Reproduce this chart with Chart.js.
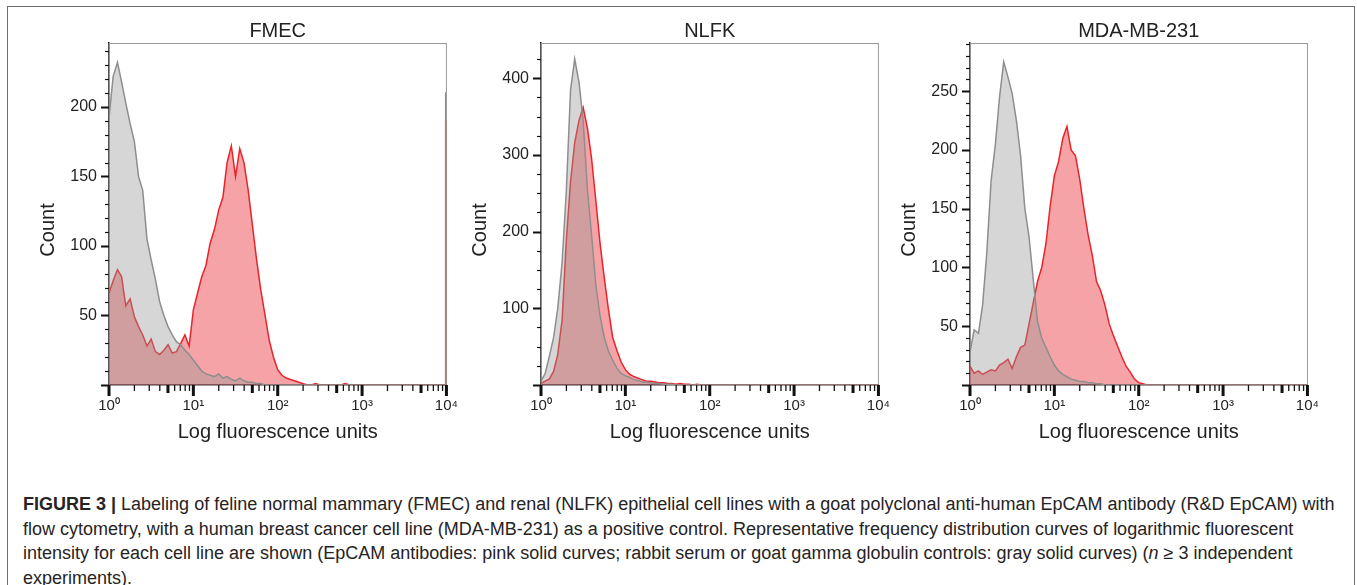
<!DOCTYPE html>
<html>
<head>
<meta charset="utf-8">
<script src="https://cdn.jsdelivr.net/npm/chart.js@4.4.1/dist/chart.umd.min.js"></script>
<style>
  html, body { margin: 0; padding: 0; background: #fff; overflow: hidden; }
  body { width: 1357px; height: 585px; position: relative; font-family: "Liberation Sans", Arial, sans-serif; }
  #frame { position: absolute; left: 7px; top: 6px; width: 1348px; height: 600px; border: 1.5px solid #6e6e6e; border-bottom: none; box-sizing: border-box; }
  canvas { position: absolute; top: 0; }
  #caption { position: absolute; left: 23px; top: 492px; font-size: 18px; line-height: 24.7px; color: #262324; white-space: nowrap; }
</style>
</head>
<body>
<div id="frame"></div>
<canvas id="fmec" width="441" height="450" style="left:29px"></canvas>
<canvas id="nlfk" width="441" height="450" style="left:461px"></canvas>
<canvas id="mda" width="441" height="450" style="left:890px"></canvas>
<div id="caption">
  <div><b>FIGURE 3 |</b> Labeling of feline normal mammary (FMEC) and renal (NLFK) epithelial cell lines with a goat polyclonal anti-human EpCAM antibody (R&amp;D EpCAM) with</div>
  <div>flow cytometry, with a human breast cancer cell line (MDA-MB-231) as a positive control. Representative frequency distribution curves of logarithmic fluorescent</div>
  <div>intensity for each cell line are shown (EpCAM antibodies: pink solid curves; rabbit serum or goat gamma globulin controls: gray solid curves) (<i>n</i> ≥ 3 independent</div>
  <div>experiments).</div>
</div>
<script>
// fluorescence channel bins (log fluorescence units)
var bins = [1.00, 1.12, 1.26, 1.41, 1.58, 1.78, 2.00, 2.24, 2.51, 2.82,
            3.16, 3.55, 3.98, 4.47, 5.01, 5.62, 6.31, 7.08, 7.94, 8.91,
            10.0, 11.2, 12.6, 14.1, 15.8, 17.8, 20.0, 22.4, 25.1, 28.2,
            31.6, 35.5, 39.8, 44.7, 50.1, 56.2, 63.1, 70.8, 79.4, 89.1,
            100, 112, 126, 141, 158, 178, 200, 224, 251, 282,
            316, 355, 398, 447, 501, 562, 631, 708, 794, 891,
            1000, 9700, 9800, 10000];

// counts per bin, gray = control, red = EpCAM
var fmecControl = [192, 222, 232, 218, 203, 188, 175, 150, 140, 105,
                   90, 76, 60, 50, 42, 36, 31, 29, 25, 22,
                   18, 14, 10, 8, 7, 6, 8, 5, 6, 4,
                   3, 5, 3, 2, 2, 1, 1, 0, 0, 0,
                   0, 0, 0, 0, 0, 0, 0, 0, 0, 0,
                   0, 0, 0, 0, 0, 0, 0, 0, 0, 0,
                   0, 0, 210, 210];
var fmecEpcam = [66, 75, 83, 78, 57, 62, 49, 42, 36, 28,
                 33, 24, 22, 25, 29, 23, 24, 30, 36, 28,
                 54, 66, 78, 86, 102, 112, 126, 135, 160, 172,
                 150, 170, 160, 140, 115, 90, 68, 50, 32, 20,
                 11, 7, 5, 4, 3, 2, 1, 0, 0, 1,
                 0, 0, 0, 0, 0, 0, 1, 0, 0, 0,
                 0, 0, 190, 190];
var nlfkControl = [5, 15, 38, 62, 100, 160, 255, 385, 425, 395,
                   345, 255, 195, 130, 90, 62, 44, 32, 22, 15,
                   12, 10, 7, 6, 4, 4, 3, 2, 2, 1,
                   1, 1, 0, 0, 0, 0, 0, 0, 0, 0,
                   0, 0, 0, 0, 0, 0, 0, 0, 0, 0,
                   0, 0, 0, 0, 0, 0, 0, 0, 0, 0,
                   0, 0, 0, 0];
var nlfkEpcam = [2, 5, 8, 18, 40, 85, 190, 265, 316, 345,
                 362, 335, 295, 240, 185, 140, 98, 62, 45, 30,
                 20, 14, 11, 9, 7, 5, 5, 4, 3, 3,
                 2, 2, 1, 2, 1, 1, 0, 1, 0, 0,
                 0, 0, 0, 0, 0, 0, 0, 0, 0, 0,
                 0, 0, 0, 0, 0, 0, 0, 0, 0, 0,
                 0, 0, 0, 0];
var mdaControl = [28, 47, 44, 68, 112, 174, 205, 245, 275, 262,
                  248, 225, 195, 150, 126, 90, 54, 40, 32, 24,
                  17, 12, 9, 7, 5, 4, 3, 3, 2, 2,
                  1, 1, 0, 0, 0, 0, 0, 0, 0, 0,
                  0, 0, 0, 0, 0, 0, 0, 0, 0, 0,
                  0, 0, 0, 0, 0, 0, 0, 0, 0, 0,
                  0, 0, 0, 0];
var mdaEpcam = [16, 10, 12, 9, 11, 13, 12, 17, 19, 22,
                14, 24, 32, 34, 52, 70, 88, 100, 120, 152,
                178, 190, 210, 220, 200, 195, 175, 150, 128, 110,
                88, 80, 68, 52, 42, 33, 24, 16, 11, 5,
                2, 1, 0, 0, 0, 0, 0, 0, 0, 0,
                0, 0, 0, 0, 0, 0, 0, 0, 0, 0,
                0, 0, 0, 0];

var decadeTicks = [1, 10, 100, 1000, 10000];
var decadeLabels = ['10⁰', '10¹', '10²', '10³', '10⁴'];
var panelTitles = ['FMEC', 'NLFK', 'MDA-MB-231'];
var yTitle = 'Count';
var yMax = [246, 446, 291];
var yMajor = [50, 100, 50];
var yMinor = [10, 25, 10];

Chart.defaults.font.family = '"Liberation Sans", Arial, sans-serif';
Chart.defaults.color = '#222';

// flow cytometry style frame, tick marks and the y title
var frameTicks = {
    id: 'frameTicks',
    beforeDatasetsDraw: function (chart) {
        var a = chart.chartArea, ctx = chart.ctx;
        ctx.save();
        ctx.strokeStyle = '#9a9a9a';
        ctx.lineWidth = 1;
        ctx.strokeRect(a.left, a.top + 0.5, a.right - a.left, a.bottom - a.top);
        ctx.restore();
    },
    afterDraw: function (chart, args, opts) {
        var a = chart.chartArea, ctx = chart.ctx, x = chart.scales.x, y = chart.scales.y;
        ctx.save();
        ctx.strokeStyle = '#111';
        for (var v = 0; v <= y.max; v += opts.minor) {
            var major = v % opts.major === 0;
            var py = Math.round(y.getPixelForValue(v)) + 0.5;
            ctx.lineWidth = major ? 2 : 1.2;
            ctx.beginPath();
            ctx.moveTo(a.left - (major ? 8 : 4), py);
            ctx.lineTo(a.left, py);
            ctx.stroke();
        }
        for (var d = 1; d <= 10000; d *= 10) {
            for (var m = 1; m <= 9; m++) {
                var val = d * m;
                if (val > 10000) break;
                var px = x.getPixelForValue(val);
                var len = m === 1 ? 11 : (m === 5 ? 8 : 6);
                ctx.lineWidth = (m === 1 || m === 5) ? 3 : 1.3;
                ctx.beginPath();
                ctx.moveTo(px, a.bottom);
                ctx.lineTo(px, a.bottom + len);
                ctx.stroke();
            }
        }
        // y title sits a little below the middle of the axis, as in the original
        ctx.translate(a.left - 61, (a.top + a.bottom) / 2 + 16);
        ctx.rotate(-Math.PI / 2);
        ctx.fillStyle = '#222';
        ctx.font = '20px "Liberation Sans", Arial, sans-serif';
        ctx.textAlign = 'center';
        ctx.textBaseline = 'middle';
        ctx.fillText(opts.title, 0, 0);
        ctx.restore();
    }
};

function toPoints(counts) {
    return counts.map(function (c, i) { return {x: bins[i], y: c}; });
}

function makeChart(id, idx, control, epcam) {
    return new Chart(document.getElementById(id).getContext('2d'), {
        type: 'line',
        data: {
            datasets: [{
                label: 'Control',
                data: toPoints(control),
                borderColor: '#8e8e8e',
                backgroundColor: 'rgba(150, 150, 150, 0.39)',
                fill: 'origin'
            }, {
                label: 'EpCAM',
                data: toPoints(epcam),
                borderColor: '#e8242a',
                backgroundColor: 'rgba(236, 60, 68, 0.47)',
                fill: 'origin'
            }]
        },
        options: {
            responsive: false,
            animation: false,
            layout: {padding: {right: 20}},
            elements: {point: {radius: 0}, line: {tension: 0, borderWidth: 1.5}},
            plugins: {
                legend: {display: false},
                tooltip: {enabled: false},
                title: {
                    display: true, text: panelTitles[idx], fullSize: false, color: '#222',
                    font: {size: 20, weight: 'normal'}, padding: {top: 19, bottom: 0}
                },
                frameTicks: {major: yMajor[idx], minor: yMinor[idx], title: yTitle}
            },
            scales: {
                x: {
                    type: 'logarithmic', min: 1, max: 10000, z: 1,
                    afterBuildTicks: function (s) { s.ticks = decadeTicks.map(function (v) { return {value: v}; }); },
                    afterFit: function (s) { s.height = 65; },
                    grid: {display: false, drawTicks: false},
                    border: {display: true, color: '#111', width: 1.5},
                    ticks: {
                        autoSkip: false, maxRotation: 0, padding: 12, color: '#222', font: {size: 15},
                        callback: function (v, i) { return decadeLabels[i]; }
                    },
                    title: {display: true, text: 'Log fluorescence units', color: '#222', font: {size: 20}, padding: {top: 0, bottom: 6}}
                },
                y: {
                    min: 0, max: yMax[idx], z: 1,
                    afterFit: function (s) { s.width = 80; },
                    grid: {display: false, drawTicks: false},
                    border: {display: true, color: '#111', width: 1.5},
                    ticks: {
                        stepSize: yMajor[idx], autoSkip: false, padding: 12, color: '#222', font: {size: 16},
                        callback: function (v) { return (v > 0 && v % yMajor[idx] === 0) ? v : ''; }
                    }
                }
            }
        },
        plugins: [frameTicks]
    });
}

makeChart('fmec', 0, fmecControl, fmecEpcam);
makeChart('nlfk', 1, nlfkControl, nlfkEpcam);
makeChart('mda', 2, mdaControl, mdaEpcam);
</script>
</body>
</html>
